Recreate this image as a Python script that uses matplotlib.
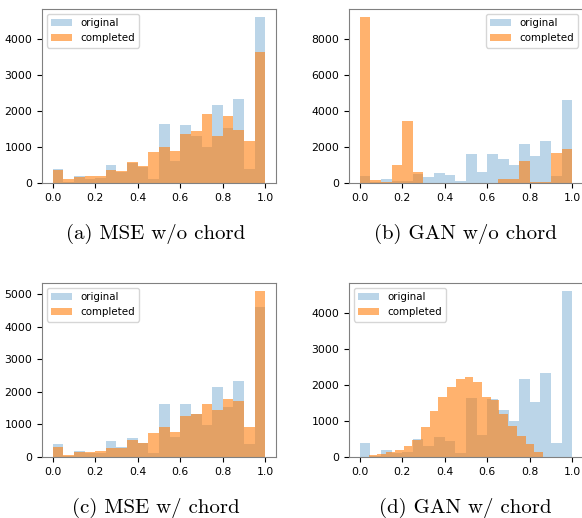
import numpy as np
import matplotlib
matplotlib.use("Agg")
import matplotlib.pyplot as plt

# ---- data (counts per bin) ----
n_bins = 20
orig_range = (0.0, 1.0)
original = [400, 40, 196, 120, 130, 502, 320, 570, 440, 125,
            1640, 615, 1620, 1312, 995, 2158, 1526, 2335, 391, 4614]

mse_wo_range = (0.0, 1.0)
mse_wo_completed = [355, 112, 168, 205, 205, 363, 346, 597, 475, 866,
                    990, 884, 1360, 1442, 1926, 1321, 1879, 1470, 1181, 3656]

gan_wo_range = (0.0, 1.0)
gan_wo_completed = [9220, 150, 50, 988, 3460, 597, 0, 0, 0, 0,
                    0, 0, 20, 205, 205, 1247, 30, 56, 1693, 1898]

mse_w_range = (0.0, 1.0)
mse_w_completed = [299, 72, 145, 145, 196, 288, 288, 525, 432, 730,
                   924, 760, 1263, 1314, 1643, 1437, 1776, 1715, 924, 5092]

gan_w_range = (0.043, 0.862)
gan_w_completed = [47, 84, 150, 187, 307, 485, 838, 1275, 1657, 1954,
                   2177, 2224, 2076, 1675, 1600, 1191, 875, 578, 354, 131]

captions = ["(a) MSE w/o chord", "(b) GAN w/o chord",
            "(c) MSE w/ chord", "(d) GAN w/ chord"]
legend_locs = ["upper left", "upper right", "upper left", "upper left"]
panels = [(mse_wo_completed, mse_wo_range), (gan_wo_completed, gan_wo_range),
          (mse_w_completed, mse_w_range), (gan_w_completed, gan_w_range)]

W, H = 582, 518
fig = plt.figure(figsize=(W / 100, H / 100), dpi=100)

# axes boxes in pixels: left, top, width, height
boxes = [(42, 9, 234, 174), (349, 9, 234, 174),
         (42, 283, 234, 174), (349, 283, 234, 174)]
cap_pos = [(156, 234), (465, 234), (156, 508), (465, 508)]


def hist_from_counts(ax, counts, rng, **kw):
    edges = np.linspace(rng[0], rng[1], n_bins + 1)
    centers = 0.5 * (edges[:-1] + edges[1:])
    ax.hist(centers, bins=edges, weights=counts, **kw)


for i, ((comp, rng), box) in enumerate(zip(panels, boxes)):
    l, t, w, h = box
    ax = fig.add_axes([l / W, 1 - (t + h) / H, w / W, h / H])
    hist_from_counts(ax, original, orig_range, color="C0", alpha=0.3,
                     label="original")
    hist_from_counts(ax, comp, rng, color="C1", alpha=0.6,
                     label="completed")
    ax.set_xticks([0.0, 0.2, 0.4, 0.6, 0.8, 1.0])
    ax.tick_params(labelsize=7.8, length=3.5)
    for sp in ax.spines.values():
        sp.set_color("#808080")
    ax.legend(loc=legend_locs[i], fontsize=7.4, handlelength=2.0,
              borderpad=0.4, labelspacing=0.5)
    cx, cy = cap_pos[i]
    fig.text(cx / W, 1 - cy / H, captions[i], ha="center", va="center",
             fontsize=15, family="cmr10")

fig.savefig("out.png", dpi=100)
